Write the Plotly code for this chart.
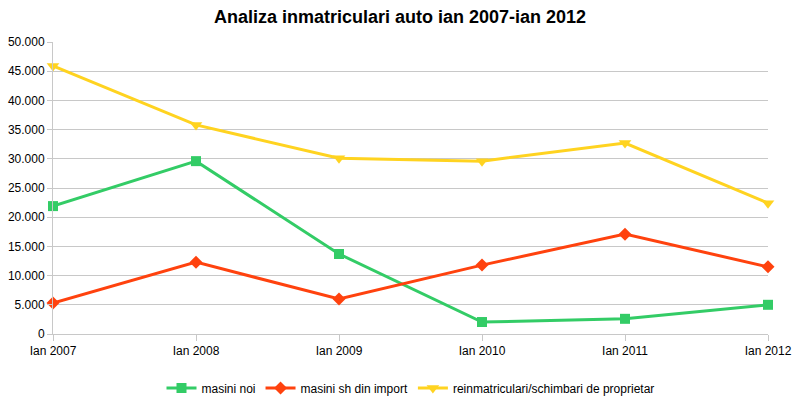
import plotly.graph_objects as go

categories = ["Ian 2007", "Ian 2008", "Ian 2009", "Ian 2010", "Ian 2011", "Ian 2012"]
masini_noi = [21900, 29600, 13700, 2050, 2600, 5000]
masini_sh_import = [5300, 12300, 6000, 11800, 17100, 11500]
reinmatriculari = [45900, 35800, 30100, 29600, 32700, 22400]
y_ticks = [0, 5000, 10000, 15000, 20000, 25000, 30000, 35000, 40000, 45000, 50000]

fig = go.Figure()
fig.add_trace(go.Scatter(x=categories, y=masini_noi, name="masini noi", mode="lines+markers",
                         line=dict(color="#33CC66", width=3),
                         marker=dict(symbol="square", size=10, color="#33CC66"), cliponaxis=False))
fig.add_trace(go.Scatter(x=categories, y=masini_sh_import, name="masini sh din import", mode="lines+markers",
                         line=dict(color="#FF420E", width=3),
                         marker=dict(symbol="diamond", size=10, color="#FF420E"), cliponaxis=False))
fig.add_trace(go.Scatter(x=categories, y=reinmatriculari, name="reinmatriculari/schimbari de proprietar", mode="lines+markers",
                         line=dict(color="#FFD320", width=3),
                         marker=dict(symbol="triangle-down", size=11, color="#FFD320"), cliponaxis=False))

fig.update_layout(
    width=800, height=403,
    margin=dict(l=53, r=32, t=42, b=69, autoexpand=False),
    paper_bgcolor="white", plot_bgcolor="white",
    separators=",.",
    font=dict(family="Liberation Sans, Arial, sans-serif", size=12, color="#000000"),
    title=dict(text="<b>Analiza inmatriculari auto ian 2007-ian 2012</b>", x=0.5, xanchor="center",
               yref="container", y=1 - 17 / 403, yanchor="middle",
               font=dict(family="Liberation Sans", size=18, color="#000000")),
    showlegend=True,
    legend=dict(orientation="h", x=0.5, xanchor="center", yref="container", y=15 / 403, yanchor="middle",
                font=dict(size=12), itemwidth=30, tracegroupgap=0),
    xaxis=dict(type="category", range=[0, 5], showgrid=False, showline=True, linecolor="#C8C8C8",
               ticks="outside", ticklen=6, tickcolor="#C8C8C8", zeroline=False, automargin=False),
    yaxis=dict(range=[0, 50000], tickvals=y_ticks, tickformat=",d", showgrid=True, gridcolor="#C8C8C8",
               showline=True, linecolor="#C8C8C8", ticks="outside", ticklen=5, tickcolor="#C8C8C8",
               zeroline=False, automargin=False),
)
fig.write_html("out.html", config={"displayModeBar": False},
               post_script="document.body.style.margin='0';")
